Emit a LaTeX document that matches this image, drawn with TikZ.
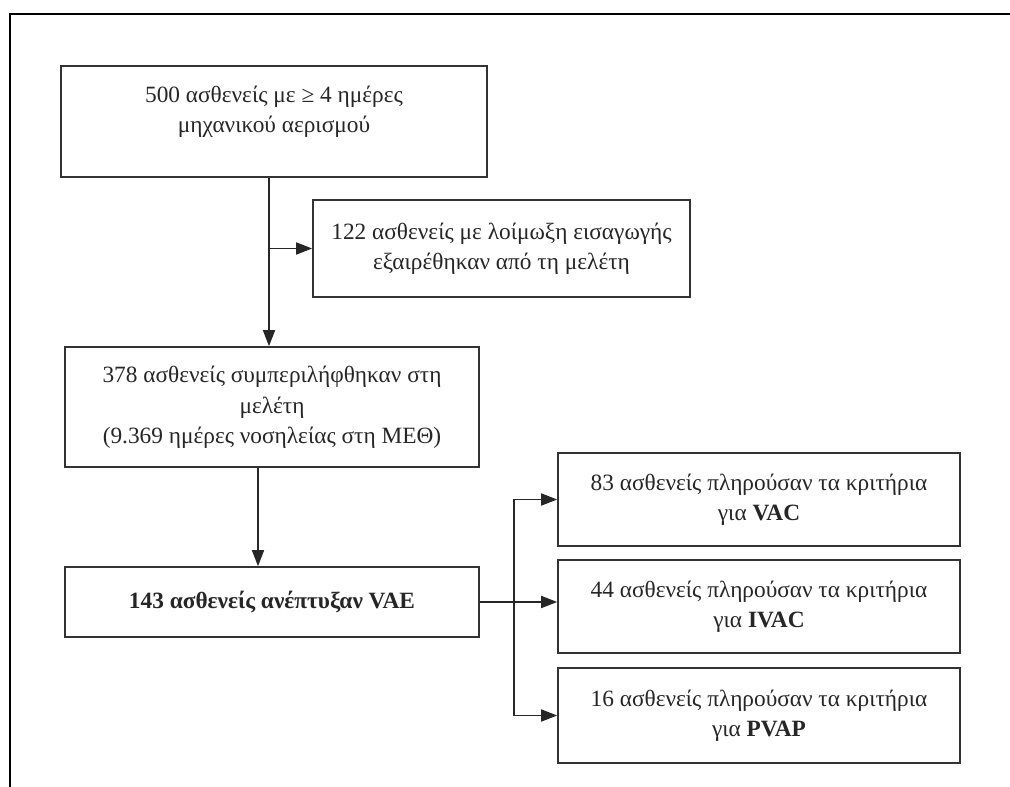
\documentclass[tikz,border=0pt]{standalone}
\usepackage{fontspec}
\setmainfont{Liberation Serif}
\usepackage{tikz}
\usetikzlibrary{arrows.meta}

\begin{document}
\begin{tikzpicture}[x=0.75pt, y=-0.75pt,
		kasten/.style={draw=black!80, line width=1.2pt, minimum width=#1*0.75pt, inner sep=0pt, font=\fontsize{17.5}{23}\selectfont, text=black!85},
		>={Triangle[length=12pt, width=9pt]}]
			\useasboundingbox (0,0) rectangle (1010,787);
			\draw[line width=1.6pt] (10,787) -- (10,14) -- (1010,14);
			\node[kasten=426, minimum height=111*0.75pt, text depth=34pt] (pat500) at (274,121.5) {
				\begin{tabular}{c}
					500 ασθενείς με ≥ 4 ημέρες \\
					μηχανικού αερισμού
				\end{tabular}
			};
			\node[kasten=377, minimum height=97*0.75pt] (pat122) at (501.5,248.5) {
				\begin{tabular}{c}
					122 ασθενείς με λοίμωξη εισαγωγής \\
					εξαιρέθηκαν από τη μελέτη
				\end{tabular}
			};
			\node[kasten=414, minimum height=120*0.75pt] (pat378) at (272,407) {
				\begin{tabular}{c}
					378 ασθενείς συμπεριλήφθηκαν στη \\
					μελέτη \\
					(9.369 ημέρες νοσηλείας στη ΜΕΘ)
				\end{tabular}
			};
			\node[kasten=414, minimum height=70*0.75pt] (pat143) at (272,602) {\textbf{143 ασθενείς ανέπτυξαν VAE}};
			\node[kasten=402, minimum height=93*0.75pt] (vac) at (759,499.5) {
				\begin{tabular}{c}
					83 ασθενείς πληρούσαν τα κριτήρια \\
					για \textbf{VAC}
				\end{tabular}
			};
			\node[kasten=402, minimum height=93*0.75pt] (ivac) at (759,606.5) {
				\begin{tabular}{c}
					44 ασθενείς πληρούσαν τα κριτήρια \\
					για \textbf{IVAC}
				\end{tabular}
			};
			\node[kasten=402, minimum height=95*0.75pt] (pvap) at (759,715.5) {
				\begin{tabular}{c}
					16 ασθενείς πληρούσαν τα κριτήρια \\
					για \textbf{PVAP}
				\end{tabular}
			};
			\coordinate (stem) at (269,0);
			\coordinate (stemb) at (258,0);
			\coordinate (fork) at (514,0);
			\draw[->, line width=1.2pt, draw=black!85] (pat500.south -| stem) -- (pat378.north -| stem);
			\draw[->, line width=1.2pt, draw=black!85] (stem |- pat122.west) -- (pat122.west);
			\draw[->, line width=1.2pt, draw=black!85] (pat378.south -| stemb) -- (pat143.north -| stemb);
			\draw[->, line width=1.2pt, draw=black!85] (pat143.east) -- (pat143.east -| ivac.west);
			\draw[line width=1.2pt, draw=black!85] (fork |- vac.west) -- (fork |- pvap.west);
			\draw[->, line width=1.2pt, draw=black!85] (fork |- vac.west) -- (vac.west);
			\draw[->, line width=1.2pt, draw=black!85] (fork |- pvap.west) -- (pvap.west);
		\end{tikzpicture}
\end{document}
